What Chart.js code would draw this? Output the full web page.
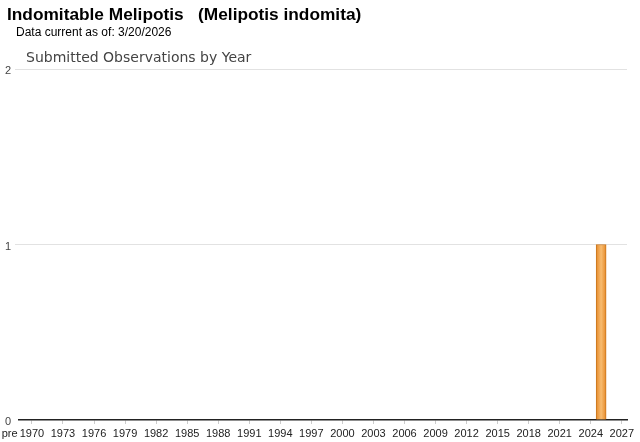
<!DOCTYPE html>
<html lang="en">
<head>
    <meta charset="UTF-8">
    <title>Indomitable Melipotis - Observations by Year</title>
    <script src="https://cdn.jsdelivr.net/npm/chart.js"></script>
    <style>
        body {
            margin: 0;
            background-color: #ffffff;
            font-family: Arial, "Liberation Sans", sans-serif;
        }

        .wrap {
            position: relative;
            width: 640px;
            height: 442px;
        }

        #speciesTitle {
            position: absolute;
            left: 7px;
            top: 4px;
            font-size: 17.3px;
            font-weight: bold;
            white-space: pre;
            color: #000;
        }

        #dataDate {
            position: absolute;
            left: 16px;
            top: 25px;
            font-size: 12px;
            color: #000;
        }

        #chartTitle {
            position: absolute;
            left: 26px;
            top: 49px;
            font-family: "DejaVu Sans", sans-serif;
            font-size: 14px;
            color: #444;
        }

        canvas {
            position: absolute;
            left: 0;
            top: 0;
        }
    </style>
</head>
<body>
    <div class="wrap">
        <canvas id="obsChart" width="640" height="442"></canvas>
        <div id="speciesTitle">Indomitable Melipotis   (Melipotis indomita)</div>
        <div id="dataDate">Data current as of: 3/20/2026</div>
        <div id="chartTitle">Submitted Observations by Year</div>
    </div>

    <script>
        // Données
        const obsYears = [2025];
        const obsCounts = [1];

        // Étiquettes de l'axe des x (tous les 3 ans)
        const xTickLabels = ['pre', '1970', '1973', '1976', '1979', '1982', '1985', '1988', '1991', '1994',
            '1997', '2000', '2003', '2006', '2009', '2012', '2015', '2018', '2021', '2024', '2027'];
        const yTickValues = [0, 1, 2];

        // "pre" est placé juste avant le début de l'axe
        const PRE_VALUE = 1967.85;
        const tickValue = lbl => lbl === 'pre' ? PRE_VALUE : Number(lbl);

        // Dégradé horizontal sur la barre (plus clair au centre)
        function barFill(c) {
            const chart = c.chart;
            const xs = chart.scales && chart.scales.x;
            if (!xs || !c.raw) return '#f0a040';
            const cx = xs.getPixelForValue(c.raw.x);
            if (!isFinite(cx)) return '#f0a040';
            const g = chart.ctx.createLinearGradient(cx - 5, 0, cx + 5, 0);
            g.addColorStop(0, '#e68a2a');
            g.addColorStop(0.5, '#f8bc70');
            g.addColorStop(1, '#e68a2a');
            return g;
        }

        const ctx = document.getElementById('obsChart').getContext('2d');
        new Chart(ctx, {
            type: 'bar',
            data: {
                datasets: [{
                    label: 'Observations',
                    data: obsYears.map((y, i) => ({ x: y, y: obsCounts[i] })),
                    backgroundColor: barFill,
                    borderColor: '#c9761d',
                    borderWidth: 1,
                    barThickness: 10
                }]
            },
            options: {
                responsive: false,
                animation: false,
                layout: {
                    padding: { top: 69, right: 13, left: 0, bottom: 0 }
                },
                plugins: {
                    legend: { display: false },
                    tooltip: { enabled: false }
                },
                scales: {
                    x: {
                        type: 'linear',
                        offset: false,
                        min: 1968.75,
                        max: 2027.5,
                        afterBuildTicks: scale => {
                            scale.ticks = xTickLabels.map(l => ({ value: tickValue(l) }));
                        },
                        afterFit: scale => {
                            scale.height = 22;
                            scale.paddingLeft = 0;
                            scale.paddingRight = 0;
                        },
                        ticks: {
                            autoSkip: false,
                            maxRotation: 0,
                            padding: 3,
                            color: '#222',
                            font: { family: 'Arial', size: 11 },
                            callback: (val, i) => xTickLabels[i]
                        },
                        grid: {
                            offset: false,
                            drawOnChartArea: false,
                            drawTicks: true,
                            tickLength: 4,
                            color: c => c.index === 0 ? 'rgba(0,0,0,0)' : '#cccccc'
                        },
                        border: { color: '#222', width: 1.5 }
                    },
                    y: {
                        min: 0,
                        max: 2,
                        afterBuildTicks: scale => {
                            scale.ticks = yTickValues.map(v => ({ value: v }));
                        },
                        afterFit: scale => {
                            scale.width = 19;
                            scale.paddingTop = 0;
                            scale.paddingBottom = 0;
                        },
                        ticks: {
                            padding: 4,
                            labelOffset: 2,
                            color: '#444',
                            font: { family: 'Arial', size: 11 }
                        },
                        grid: {
                            tickLength: 4,
                            color: c => c.tick && c.tick.value === 0 ? 'rgba(0,0,0,0)' : '#e2e2e2'
                        },
                        border: { display: false }
                    }
                }
            }
        });
    </script>
</body>
</html>
